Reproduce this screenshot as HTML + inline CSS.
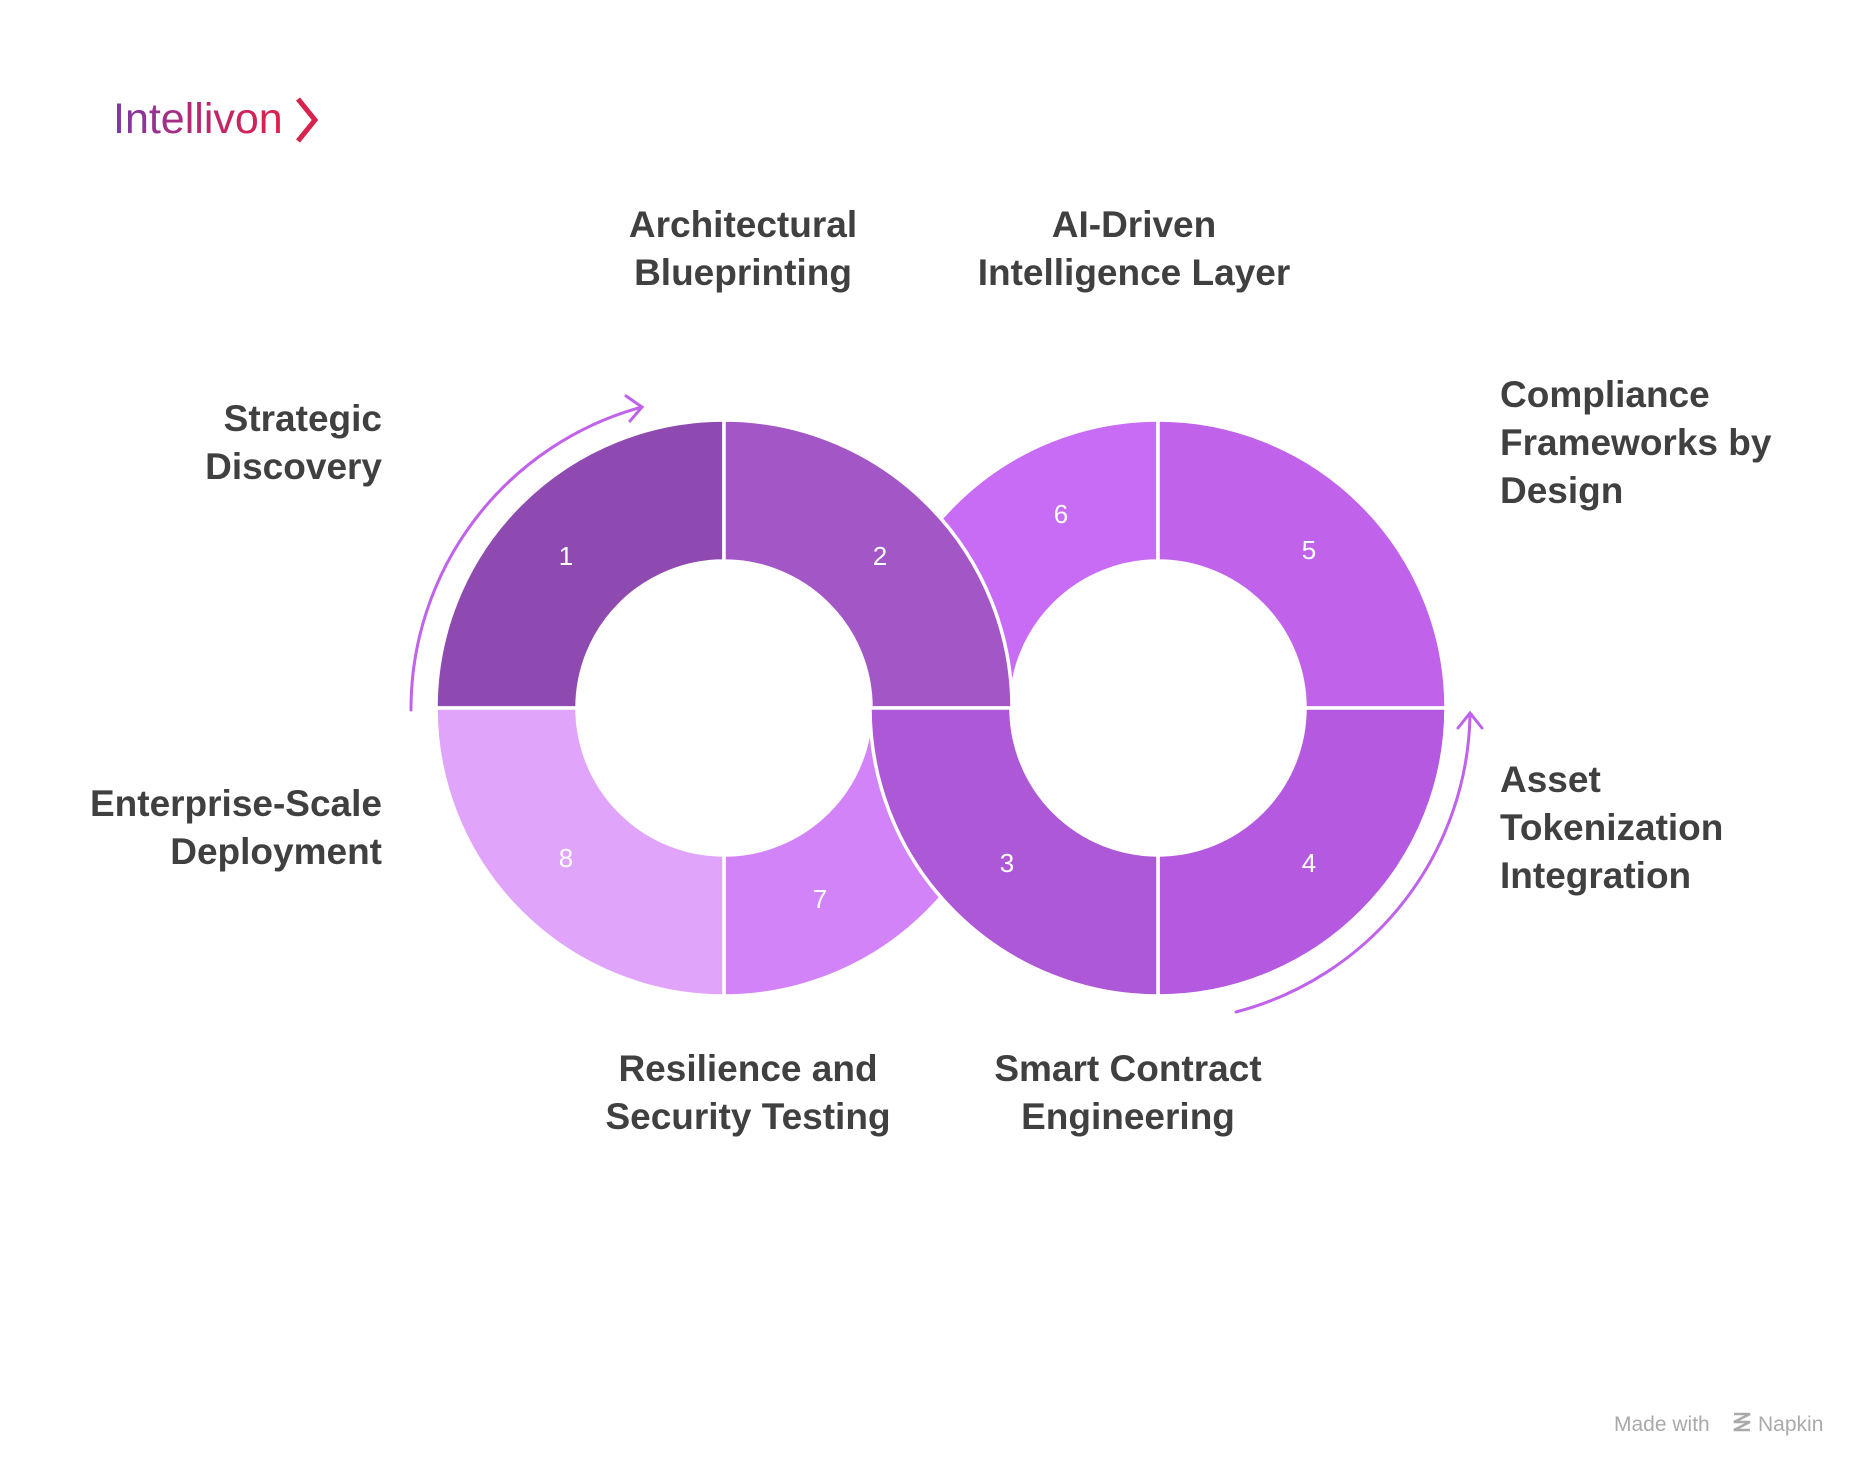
<!DOCTYPE html>
<html><head><meta charset="utf-8"><style>html,body{margin:0;padding:0;background:#fff}svg{display:block}</style></head>
<body>
<svg width="1872" height="1473" viewBox="0 0 1872 1473" xmlns="http://www.w3.org/2000/svg">
<defs>
<linearGradient id="lg" x1="0" x2="1" y1="0" y2="0">
<stop offset="0" stop-color="#7b3aa8"/><stop offset="0.6" stop-color="#c0266a"/><stop offset="1" stop-color="#e0204a"/>
</linearGradient>
</defs>
<rect width="1872" height="1473" fill="#fff"/>
<text x="113" y="133" font-family="Liberation Sans, sans-serif" font-size="43" fill="url(#lg)">Intellivon</text>
<polyline points="298,99 315,120 298,141" fill="none" stroke="#d8234e" stroke-width="5"/>

<g stroke="#fff" stroke-width="3.5" stroke-linejoin="round">
<path d="M870,708 A288,288 0 0 1 1158,420 L1158,561 A147,147 0 0 0 1011,708 Z" fill="#c86cf6"/>
<path d="M1012,708 A288,288 0 0 1 724,996 L724,855 A147,147 0 0 0 871,708 Z" fill="#d383f8"/>
<path d="M436,708 A288,288 0 0 1 724,420 L724,561 A147,147 0 0 0 577,708 Z" fill="#8e4ab0"/>
<path d="M724,996 A288,288 0 0 1 436,708 L577,708 A147,147 0 0 0 724,855 Z" fill="#e0a4fb"/>
<path d="M1158,420 A288,288 0 0 1 1446,708 L1305,708 A147,147 0 0 0 1158,561 Z" fill="#c062ea"/>
<path d="M1446,708 A288,288 0 0 1 1158,996 L1158,855 A147,147 0 0 0 1305,708 Z" fill="#b55ae0"/>
<path d="M724,420 A288,288 0 0 1 1012,708 L871,708 A147,147 0 0 0 724,561 Z" fill="#a356c6"/>
<path d="M1158,996 A288,288 0 0 1 870,708 L1011,708 A147,147 0 0 0 1158,855 Z" fill="#ad58d6"/>
</g>

<g font-family="Liberation Sans, sans-serif" font-size="26" fill="#fff" text-anchor="middle">
<text x="566" y="565">1</text><text x="880" y="565">2</text>
<text x="1061" y="523">6</text><text x="1309" y="559">5</text>
<text x="566" y="867">8</text><text x="820" y="908">7</text>
<text x="1007" y="872">3</text><text x="1309" y="872">4</text>
</g>

<g fill="none" stroke="#c062ea" stroke-width="3" stroke-linecap="round">
<path d="M411,710 A313,313 0 0 1 642,407"/>
<polyline points="626,396 642,407 630,421"/>
<path d="M1236,1012 A313,313 0 0 0 1470,716"/>
<polyline points="1458,728 1470,713 1482,728"/>
</g>

<g font-family="Liberation Sans, sans-serif" font-size="37" font-weight="bold" fill="#404040">
<g text-anchor="middle">
<text x="743" y="237">Architectural</text><text x="743" y="285">Blueprinting</text>
<text x="1134" y="237">AI-Driven</text><text x="1134" y="285">Intelligence Layer</text>
<text x="748" y="1081">Resilience and</text><text x="748" y="1129">Security Testing</text>
<text x="1128" y="1081">Smart Contract</text><text x="1128" y="1129">Engineering</text>
</g>
<g text-anchor="end">
<text x="382" y="431">Strategic</text><text x="382" y="479">Discovery</text>
<text x="382" y="816">Enterprise-Scale</text><text x="382" y="864">Deployment</text>
</g>
<g>
<text x="1500" y="407">Compliance</text><text x="1500" y="455">Frameworks by</text><text x="1500" y="503">Design</text>
<text x="1500" y="792">Asset</text><text x="1500" y="840">Tokenization</text><text x="1500" y="888">Integration</text>
</g>
</g>

<g font-family="Liberation Sans, sans-serif" font-size="21" fill="#aaaaaa">
<text x="1614" y="1431">Made with</text>
<path d="M1734,1414 l16,0 l-16,8 l16,0 l-16,8 l16,0" fill="none" stroke="#aaa" stroke-width="2.5"/>
<text x="1758" y="1431">Napkin</text>
</g>
</svg>
</body></html>
